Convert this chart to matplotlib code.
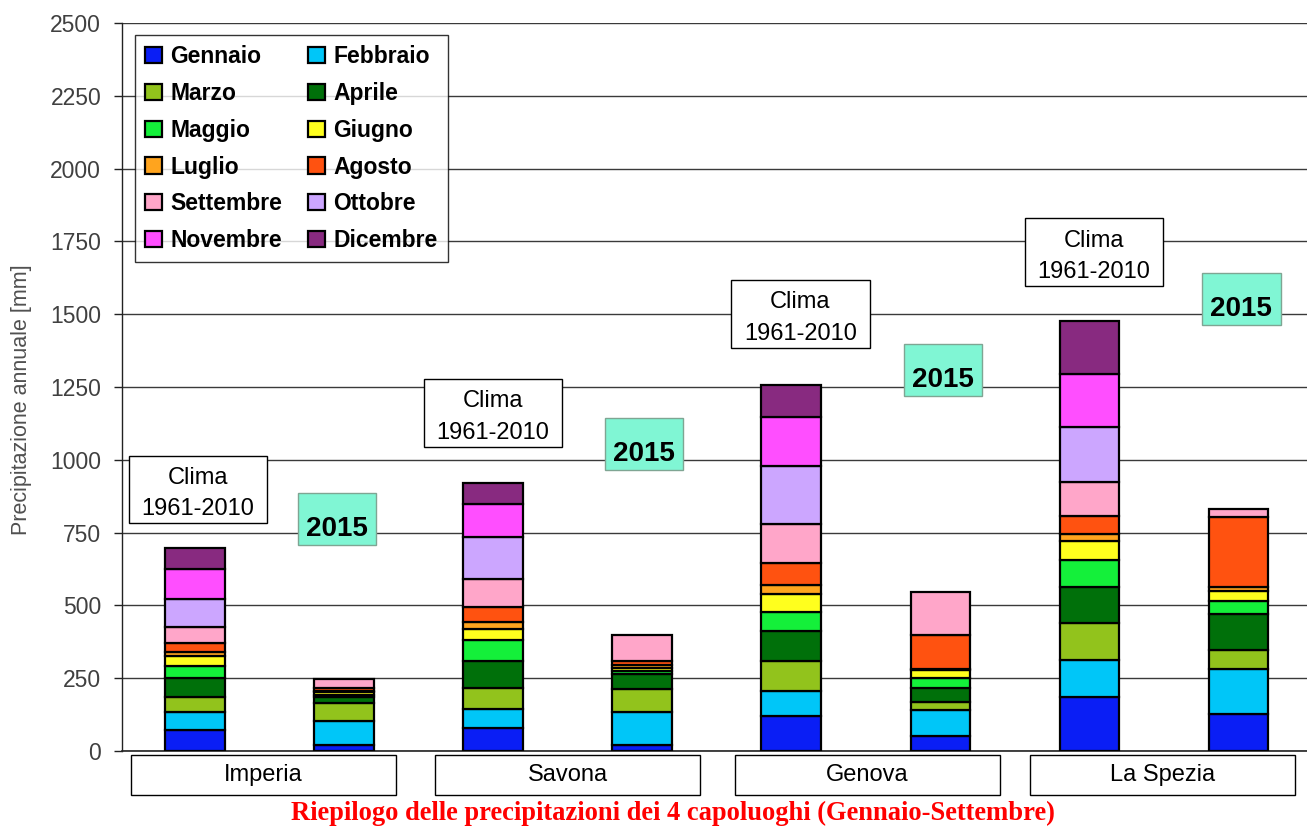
import matplotlib
matplotlib.use('Agg')
import matplotlib.pyplot as plt
from matplotlib.patches import Rectangle
import numpy as np

# ---------------- data ----------------
months = ['Gennaio', 'Febbraio', 'Marzo', 'Aprile', 'Maggio', 'Giugno',
          'Luglio', 'Agosto', 'Settembre', 'Ottobre', 'Novembre', 'Dicembre']
month_colors = ['#0A1EF5', '#00C6F8', '#92C31C', '#00700A', '#14F03A', '#FFFF1E',
                '#FFA41E', '#FF5210', '#FFA6C9', '#CCA6FF', '#FF4EFF', '#882A80']

stations = ['Imperia', 'Savona', 'Genova', 'La Spezia']

imperia_clima = [72, 61, 53, 64, 42, 34, 15, 29, 55, 96, 103, 72]
imperia_2015 = [20, 84, 62, 18, 10, 8, 3, 12, 29]
savona_clima = [78, 66, 71, 95, 71, 37, 25, 52, 95, 146, 111, 72]
savona_2015 = [21, 114, 77, 52, 10, 10, 10, 15, 91]
genova_clima = [120, 87, 102, 103, 66, 60, 32, 75, 135, 199, 169, 109]
genova_2015 = [52, 89, 26, 50, 33, 28, 3, 117, 149]
laspezia_clima = [186, 127, 125, 124, 94, 66, 22, 64, 117, 189, 182, 179]
laspezia_2015 = [127, 154, 66, 123, 46, 33, 15, 241, 26]

series = [imperia_clima, imperia_2015, savona_clima, savona_2015,
          genova_clima, genova_2015, laspezia_clima, laspezia_2015]

yticks = [0, 250, 500, 750, 1000, 1250, 1500, 1750, 2000, 2250, 2500]
ylabel = 'Precipitazione annuale [mm]'
title = 'Riepilogo delle precipitazioni dei 4 capoluoghi (Gennaio-Settembre)'
clima_label = 'Clima\n1961-2010'
year_label = '2015'

# annotation box placement (data coords): centre x, centre y
clima_box_pos = [(0.02, 898), (2.00, 1161), (4.06, 1501), (6.03, 1713)]
year_box_pos = [(0.95, 797), (3.01, 1054), (5.02, 1308), (7.02, 1552)]
station_box_x = [0.46, 2.50, 4.51, 6.49]

# ---------------- figure ----------------
plt.rcParams['font.family'] = ['Liberation Sans', 'DejaVu Sans']
fig = plt.figure(figsize=(13.07, 8.27), dpi=100)
W, H = 1307, 827
ax = fig.add_axes([122 / W, 76 / H, (W - 122) / W, 728 / H])

xpos = np.arange(len(series))
bar_w = 0.40
handles = [None] * 12
for i, vals in enumerate(series):
    bottom = 0
    for m, v in enumerate(vals):
        b = ax.bar(xpos[i], v, bottom=bottom, width=bar_w, color=month_colors[m],
                   edgecolor='black', linewidth=1.6, zorder=3)
        if handles[m] is None:
            handles[m] = b
        bottom += v

ax.set_xlim(-0.49, 7.46)
ax.set_ylim(0, 2500)
ax.set_yticks(yticks)
ax.set_xticks([])
ax.yaxis.grid(True, color='#3a3a3a', linewidth=1.0, zorder=0)
ax.set_axisbelow(True)
for s in ['top', 'right']:
    ax.spines[s].set_visible(False)
ax.spines['left'].set_color('#222222')
ax.spines['bottom'].set_color('#222222')
ax.spines['left'].set_linewidth(1.0)
ax.spines['bottom'].set_linewidth(1.2)
ax.tick_params(axis='y', direction='out', length=6, width=1, color='#222222',
               labelsize=16.5, labelcolor='#404040', pad=9)

fig.text(22 / W, 1 - 400 / H, ylabel, rotation=90, ha='center', va='center',
         fontsize=15.5, color='#505050')

# legend (row-major order in 2 columns)
order = [0, 2, 4, 6, 8, 10, 1, 3, 5, 7, 9, 11]
leg = ax.legend([handles[k] for k in order], [months[k] for k in order],
                ncol=2, loc='upper left', bbox_to_anchor=(13 / 1185, 1 - 12 / 728),
                frameon=True, fancybox=False, edgecolor='black',
                prop={'weight': 'bold', 'size': 16.5},
                handlelength=0.72, handleheight=0.72, handletextpad=0.36,
                labelspacing=0.6, columnspacing=1.15, borderpad=0.45,
                borderaxespad=0)
leg.get_frame().set_linewidth(1.0)
leg.set_zorder(5)

# Clima boxes
cw, ch = 0.93, 232
for (cx, cy) in clima_box_pos:
    ax.add_patch(Rectangle((cx - cw / 2, cy - ch / 2), cw, ch, facecolor='white',
                           edgecolor='black', linewidth=1.0, zorder=4))
    ax.text(cx, cy - 14, clima_label, ha='center', va='center', fontsize=17,
            linespacing=1.55, zorder=5)

# 2015 boxes
yw, yh = 0.525, 179
for (cx, cy) in year_box_pos:
    ax.add_patch(Rectangle((cx - yw / 2, cy - yh / 2), yw, yh, facecolor='#80F6D4',
                           edgecolor='#7FA593', linewidth=1.0, zorder=4))
    ax.text(cx, cy - 34, year_label, ha='center', va='center', fontsize=20,
            fontweight='bold', zorder=5)

# station label boxes below the axis
sw, sh = 1.78, 137
for name, sx in zip(stations, station_box_x):
    ax.add_patch(Rectangle((sx - sw / 2, -82 - sh / 2), sw, sh, facecolor='white',
                           edgecolor='black', linewidth=1.0, clip_on=False, zorder=4))
    ax.text(sx, -82, name, ha='center', va='center', fontsize=17, clip_on=False, zorder=5)

fig.text(673 / W, 1 - 813 / H, title, ha='center', va='center', fontsize=19.1,
         fontweight='bold', color='#FF0000',
         family=['Liberation Serif', 'DejaVu Serif'])

fig.savefig('out.png', dpi=100)
